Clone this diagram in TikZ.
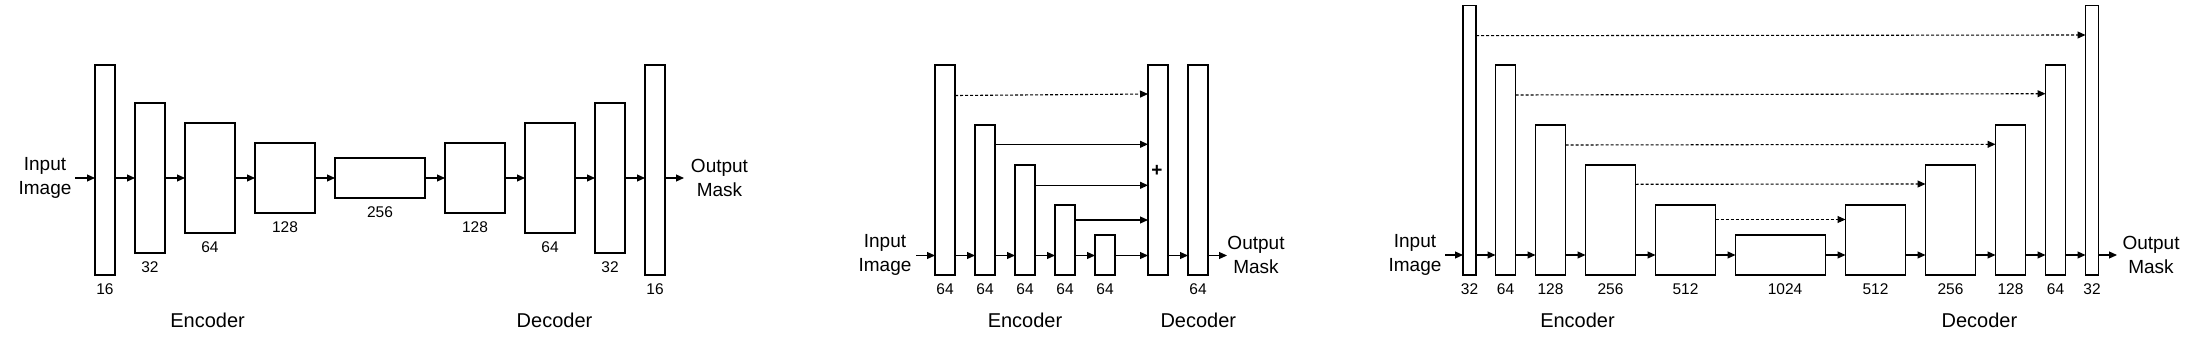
\documentclass[tikz,border=0pt]{standalone}
\usepackage{fontspec}
\setmainfont{Liberation Sans}
\usetikzlibrary{arrows.meta,calc}
\tikzset{
 blk/.style={draw=black, line width=1.2pt, fill=white, inner sep=0pt, outer sep=0pt, anchor=north west},
 arr/.style={-{Triangle[length=8pt,width=7pt]}, line width=1.1pt},
 dsh/.style={arr, dash pattern=on 3pt off 2pt},
 lbl/.style={font=\fontsize{15.5}{18}\selectfont, inner sep=0pt},
 io/.style={font=\fontsize{19}{23.3}\selectfont, align=center, inner sep=0pt},
 sec/.style={font=\fontsize{20}{24}\selectfont, inner sep=0pt},
}
\newcommand\bx[5]{\node[blk, minimum width=#4pt, minimum height=#5pt] (#1) at (#2,#3) {};}
\newcommand\lb[2]{\node[lbl] at ($(#1.south)+(0,14.5)$) {#2};}
\begin{document}
\begin{tikzpicture}[x=1pt,y=-1pt]
\useasboundingbox (0,0) rectangle (2196,340);
% ---------- Panel 1 ----------
\coordinate (m1) at (0,178);
\bx{p1a}{95}{65}{20}{210}
\bx{p1b}{135}{103}{30}{150}
\bx{p1c}{185}{123}{50}{110}
\bx{p1d}{255}{143}{60}{70}
\bx{p1e}{335}{158}{90}{40}
\bx{p1f}{445}{143}{60}{70}
\bx{p1g}{525}{123}{50}{110}
\bx{p1h}{595}{103}{30}{150}
\bx{p1i}{645}{65}{20}{210}
\lb{p1a}{16}\lb{p1b}{32}\lb{p1c}{64}\lb{p1d}{128}\lb{p1e}{256}
\lb{p1f}{128}\lb{p1g}{64}\lb{p1h}{32}\lb{p1i}{16}
\coordinate (in1) at (75,178);
\coordinate (out1) at (684,178);
\node[io] (tin1) at (45,178) {Input\\Image};
\node[io] (tout1) at (719.5,178) {Output\\Mask};
\draw[arr] (in1) -- (p1a.west |- m1);
\foreach \a/\b in {p1a/p1b,p1b/p1c,p1c/p1d,p1d/p1e,p1e/p1f,p1f/p1g,p1g/p1h,p1h/p1i}
  \draw[arr] (\a.east |- m1) -- (\b.west |- m1);
\draw[arr] (p1i.east |- m1) -- (out1);
\node[sec] (enc1) at (207.6,320) {Encoder};
\node[sec] (dec1) at (554.5,320) {Decoder};
% ---------- Panel 2 ----------
\coordinate (m2) at (0,255.5);
\bx{p2a}{935}{65}{20}{210}
\bx{p2b}{975}{125}{20}{150}
\bx{p2c}{1015}{165}{20}{110}
\bx{p2d}{1055}{205}{20}{70}
\bx{p2e}{1095}{235}{20}{40}
\bx{p2f}{1148}{65}{20}{210}
\bx{p2g}{1188}{65}{20}{210}
\lb{p2a}{64}\lb{p2b}{64}\lb{p2c}{64}\lb{p2d}{64}\lb{p2e}{64}\lb{p2g}{64}
\node[font=\fontsize{19}{23}\selectfont\bfseries, inner sep=0pt] (plus) at (1157,171) {+};
\coordinate (in2) at (916,255.5);
\coordinate (out2) at (1227,255.5);
\node[io] (tin2) at (885,255) {Input\\Image};
\node[io] (tout2) at (1256,255) {Output\\Mask};
\draw[arr] (in2) -- (p2a.west |- m2);
\foreach \a/\b in {p2a/p2b,p2b/p2c,p2c/p2d,p2d/p2e,p2e/p2f,p2f/p2g}
  \draw[arr] (\a.east |- m2) -- (\b.west |- m2);
\draw[arr] (p2g.east |- m2) -- (out2);
\draw[dsh] ($(p2a.north east)+(0,30.5)$) -- ($(p2f.north west)+(0,29)$);
\draw[arr] ($(p2b.north east)+(0,19.3)$) -- ($(p2f.north west)+(0,79.3)$);
\draw[arr] ($(p2c.north east)+(0,20.3)$) -- ($(p2f.north west)+(0,120.3)$);
\draw[arr] ($(p2d.north east)+(0,15)$) -- ($(p2f.north west)+(0,155)$);
\node[sec] (enc2) at (1025,320) {Encoder};
\node[sec] (dec2) at (1198.3,320) {Decoder};
% ---------- Panel 3 ----------
\coordinate (m3) at (0,255);
\bx{p3a}{1463}{5.5}{13}{269.5}
\bx{p3b}{1495.5}{65}{20}{210}
\bx{p3c}{1535.5}{125}{30}{150}
\bx{p3d}{1585.5}{165}{50}{110}
\bx{p3e}{1655.5}{205}{60}{70}
\bx{p3f}{1735.5}{235}{90}{40}
\bx{p3g}{1845.5}{205}{60}{70}
\bx{p3h}{1925.5}{165}{50}{110}
\bx{p3i}{1995.5}{125}{30}{150}
\bx{p3j}{2045.5}{65}{20}{210}
\bx{p3k}{2085.5}{5.5}{13}{269.5}
\lb{p3a}{32}\lb{p3b}{64}\lb{p3c}{128}\lb{p3d}{256}\lb{p3e}{512}
\node[lbl] at ($(p3f.south)+(4.5,14.5)$) {1024};
\lb{p3g}{512}\lb{p3h}{256}\lb{p3i}{128}\lb{p3j}{64}\lb{p3k}{32}
\coordinate (in3) at (1445,255);
\coordinate (out3) at (2117,255);
\node[io] (tin3) at (1415,255) {Input\\Image};
\node[io] (tout3) at (2151,255) {Output\\Mask};
\draw[arr] (in3) -- (p3a.west |- m3);
\foreach \a/\b in {p3a/p3b,p3b/p3c,p3c/p3d,p3d/p3e,p3e/p3f,p3f/p3g,p3g/p3h,p3h/p3i,p3i/p3j,p3j/p3k}
  \draw[arr] (\a.east |- m3) -- (\b.west |- m3);
\draw[arr] (p3k.east |- m3) -- (out3);
\draw[dsh] ($(p3a.north east)+(0,30.2)$) -- ($(p3k.north west)+(0,29.5)$);
\draw[dsh] ($(p3b.north east)+(0,30)$) -- ($(p3j.north west)+(0,28.7)$);
\draw[dsh] ($(p3c.north east)+(0,20)$) -- ($(p3i.north west)+(0,19.3)$);
\draw[dsh] ($(p3d.north east)+(0,19.3)$) -- ($(p3h.north west)+(0,19)$);
\draw[dsh] ($(p3e.north east)+(0,14.5)$) -- ($(p3g.north west)+(0,14.5)$);
\node[sec] (enc3) at (1577.5,320) {Encoder};
\node[sec] (dec3) at (1979.4,320) {Decoder};
\end{tikzpicture}
\end{document}
